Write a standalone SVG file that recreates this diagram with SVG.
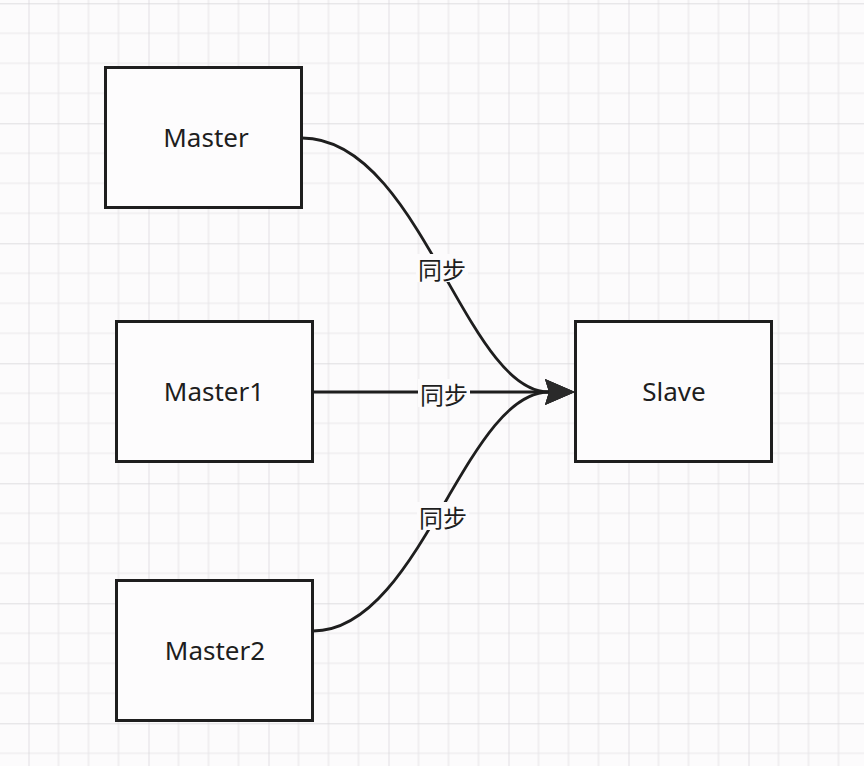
<svg xmlns="http://www.w3.org/2000/svg" width="864" height="766" viewBox="0 0 864 766">
  <style>
    .box { fill: #fdfcfd; stroke: #1e1e1e; stroke-width: 3; }
    .lbl { font-family: "Noto Sans", "Open Sans", sans-serif; font-size: 26px; fill: #1e1e1e; text-anchor: middle; dominant-baseline: central; }
    .edge { fill: none; stroke: #1e1e1e; stroke-width: 2.8; }
    .elbl { font-family: "Noto Sans CJK SC", "Noto Sans", sans-serif; font-size: 24px; fill: #1e1e1e; text-anchor: middle; dominant-baseline: central; }
  </style>
  <defs>
    <pattern id="grid" x="28.5" y="3.3" width="120" height="120" patternUnits="userSpaceOnUse">
      <path d="M30,0 V120 M60,0 V120 M90,0 V120 M0,30 H120 M0,60 H120 M0,90 H120" stroke="#e9e8ea" stroke-width="1.2" fill="none"/>
      <path d="M0,0 V120 M0,0 H120" stroke="#d6d5d8" stroke-width="1.4" fill="none"/>
    </pattern>
    <marker id="arrow" viewBox="0 0 30 26" refX="4" refY="13" markerWidth="30" markerHeight="26" markerUnits="userSpaceOnUse" orient="auto">
      <path d="M0,0 L30,13 L0,26 L4,13 Z" fill="#2a2a2a"/>
    </marker>
  </defs>
  <rect width="864" height="766" fill="#fcfbfc"/>
  <rect width="864" height="766" fill="url(#grid)"/>

  <g id="connectors">
    <path class="edge" d="M302,138 C420,138 465,392 549,392" marker-end="url(#arrow)"/>
    <path class="edge" d="M313,392 L549,392" marker-end="url(#arrow)"/>
    <path class="edge" d="M313,631 C420,631 465,392 549,392" marker-end="url(#arrow)"/>
    <g id="edge-labels">
      <rect x="416" y="254" width="52" height="28" fill="#fcfbfc"/>
      <text class="elbl" x="442" y="268">同步</text>
      <rect x="418" y="379" width="52" height="28" fill="#fcfbfc"/>
      <text class="elbl" x="444" y="393">同步</text>
      <rect x="417" y="502" width="52" height="28" fill="#fcfbfc"/>
      <text class="elbl" x="443" y="516">同步</text>
    </g>
  </g>

  <g id="master">
    <rect class="box" x="105.5" y="67.5" width="196" height="140"/>
    <text class="lbl" x="206" y="137">Master</text>
  </g>
  <g id="master1">
    <rect class="box" x="116.5" y="321.5" width="196" height="140"/>
    <text class="lbl" x="214" y="391">Master1</text>
  </g>
  <g id="master2">
    <rect class="box" x="116.5" y="580.5" width="196" height="140"/>
    <text class="lbl" x="215" y="650">Master2</text>
  </g>
  <g id="slave">
    <rect class="box" x="575.5" y="321.5" width="196" height="140"/>
    <text class="lbl" x="674" y="391">Slave</text>
  </g>
</svg>
